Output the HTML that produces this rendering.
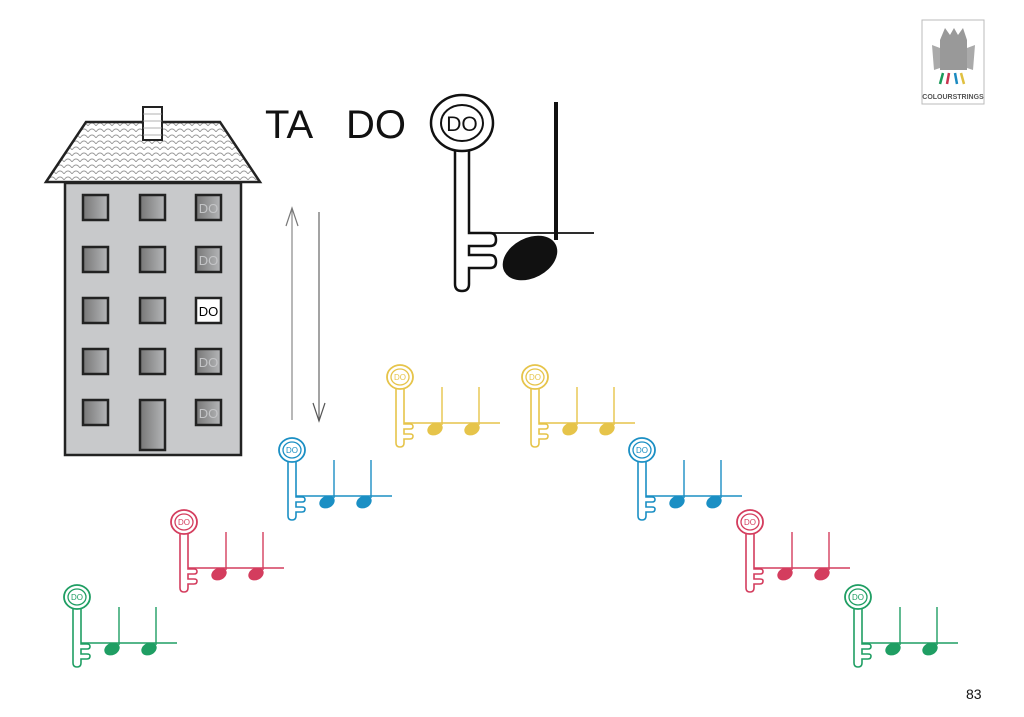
<!DOCTYPE html>
<html><head><meta charset="utf-8"><style>
html,body{margin:0;padding:0;background:#fff;}
svg{display:block;}
text{font-family:"Liberation Sans",sans-serif;}
</style></head><body>
<svg width="1024" height="717" viewBox="0 0 1024 717" xmlns="http://www.w3.org/2000/svg">
<defs>
<pattern id="sh" width="8" height="6" patternUnits="userSpaceOnUse">
<rect width="8" height="6" fill="#fff"/>
<path d="M0 6 Q4 0 8 6" fill="none" stroke="#999" stroke-width="0.9"/>
</pattern>
<linearGradient id="wg" x1="0" x2="1"><stop offset="0" stop-color="#777"/><stop offset="1" stop-color="#b5b6b8"/></linearGradient>
<g id="key">
<path d="M-4 11 L-4 66 Q-4 70 0 70 Q4 70 4 66 L4 62 L10 62 Q13 62 13 59 Q13 57 10 57 L4 57 L4 52 L10 52 Q13 52 13 49.5 Q13 47 10 47 L4 47 L4 11" fill="#fff" stroke="currentColor" stroke-width="1.6"/>
<ellipse cx="0" cy="0" rx="13" ry="12" fill="#fff" stroke="currentColor" stroke-width="1.8"/>
<ellipse cx="0" cy="0" rx="9" ry="8" fill="none" stroke="currentColor" stroke-width="1.3"/>
<text x="0" y="3" font-size="8" text-anchor="middle" fill="currentColor">DO</text>
<line x1="4" y1="46" x2="100" y2="46" stroke="currentColor" stroke-width="1.4"/>
<line x1="42" y1="10" x2="42" y2="48" stroke="currentColor" stroke-width="1.4"/>
<line x1="79" y1="10" x2="79" y2="48" stroke="currentColor" stroke-width="1.4"/>
<ellipse cx="35" cy="52" rx="8" ry="6" transform="rotate(-25 35 52)" fill="currentColor"/>
<ellipse cx="72" cy="52" rx="8" ry="6" transform="rotate(-25 72 52)" fill="currentColor"/>
</g>
</defs>
<rect width="1024" height="717" fill="#fff"/>

<!-- logo -->
<rect x="922" y="20" width="62" height="84" fill="#fff" stroke="#bbb" stroke-width="1"/>
<path d="M940 40 L945 28 L950 35 L954 28 L958 35 L963 28 L967 40 L967 70 L940 70 Z" fill="#999"/>
<path d="M932 45 L940 48 L940 68 L934 70 Z M975 45 L967 48 L967 68 L973 70 Z" fill="#aaa"/>
<line x1="940" y1="84" x2="943" y2="73" stroke="#1a9a5a" stroke-width="2.5"/>
<line x1="947" y1="84" x2="949" y2="73" stroke="#c8334f" stroke-width="2.5"/>
<line x1="957" y1="84" x2="955" y2="73" stroke="#1b8ac0" stroke-width="2.5"/>
<line x1="964" y1="84" x2="961" y2="73" stroke="#e0c040" stroke-width="2.5"/>
<text x="953" y="99" font-size="7" font-weight="bold" text-anchor="middle" fill="#555">COLOURSTRINGS</text>

<!-- house -->
<polygon points="46,182 86,122 220,122 260,182" fill="url(#sh)" stroke="#222" stroke-width="2.5"/>
<rect x="143" y="107" width="19" height="33" fill="#fff" stroke="#222" stroke-width="2"/>
<path d="M143 114 H162 M143 121 H162 M143 128 H162 M143 135 H162" stroke="#999" stroke-width="0.8"/>
<rect x="65" y="183" width="176" height="272" fill="#c8c9cb" stroke="#222" stroke-width="2.5"/>
<g stroke="#222" stroke-width="2.5" fill="url(#wg)">
<rect x="83" y="195" width="25" height="25"/><rect x="140" y="195" width="25" height="25"/><rect x="196" y="195" width="25" height="25"/>
<rect x="83" y="247" width="25" height="25"/><rect x="140" y="247" width="25" height="25"/><rect x="196" y="247" width="25" height="25"/>
<rect x="83" y="298" width="25" height="25"/><rect x="140" y="298" width="25" height="25"/><rect x="196" y="298" width="25" height="25" fill="#fff"/>
<rect x="83" y="349" width="25" height="25"/><rect x="140" y="349" width="25" height="25"/><rect x="196" y="349" width="25" height="25"/>
<rect x="83" y="400" width="25" height="25"/><rect x="140" y="400" width="25" height="50"/><rect x="196" y="400" width="25" height="25"/>
</g>
<g font-size="13" text-anchor="middle" fill="#c4c5c7">
<text x="208.5" y="213">DO</text><text x="208.5" y="265">DO</text><text x="208.5" y="316" fill="#000">DO</text><text x="208.5" y="367">DO</text><text x="208.5" y="418">DO</text>
</g>

<!-- arrows -->
<line x1="292" y1="210" x2="292" y2="420" stroke="#888" stroke-width="1.2"/>
<path d="M286 226 L292 208 L298 226" fill="none" stroke="#777" stroke-width="1.2"/>
<line x1="319" y1="212" x2="319" y2="421" stroke="#666" stroke-width="1.2"/>
<path d="M313 403 L319 421 L325 403" fill="none" stroke="#555" stroke-width="1.2"/>

<text x="265" y="138" font-size="40" fill="#111">TA</text>
<text x="346" y="138" font-size="40" fill="#111">DO</text>

<!-- big key -->
<path d="M455 148 L455 284 Q455 291 462 291 Q469 291 469 284 L469 268 L490 268 Q496 268 496 262 Q496 255 490 255 L469 255 L469 246 L490 246 Q496 246 496 240 Q496 233 490 233 L469 233 L469 148" fill="#fff" stroke="#111" stroke-width="2.5"/>
<ellipse cx="462" cy="123" rx="31" ry="28" fill="#fff" stroke="#111" stroke-width="2.5"/>
<ellipse cx="462" cy="123" rx="21" ry="18" fill="none" stroke="#111" stroke-width="2"/>
<text x="462" y="131" font-size="21" text-anchor="middle" fill="#111">DO</text>
<line x1="469" y1="233" x2="594" y2="233" stroke="#111" stroke-width="1.8"/>
<line x1="556" y1="102" x2="556" y2="240" stroke="#111" stroke-width="4"/>
<ellipse cx="530" cy="258" rx="29" ry="20" transform="rotate(-28 530 258)" fill="#111"/>

<!-- small keys -->
<use href="#key" x="77" y="597" style="color:#1f9e63"/>
<use href="#key" x="184" y="522" style="color:#d43d5e"/>
<use href="#key" x="292" y="450" style="color:#1b8fc4"/>
<use href="#key" x="400" y="377" style="color:#e6c44a"/>
<use href="#key" x="535" y="377" style="color:#e6c44a"/>
<use href="#key" x="642" y="450" style="color:#1b8fc4"/>
<use href="#key" x="750" y="522" style="color:#d43d5e"/>
<use href="#key" x="858" y="597" style="color:#1f9e63"/>

<text x="966" y="699" font-size="14" fill="#111">83</text>
</svg>
</body></html>
